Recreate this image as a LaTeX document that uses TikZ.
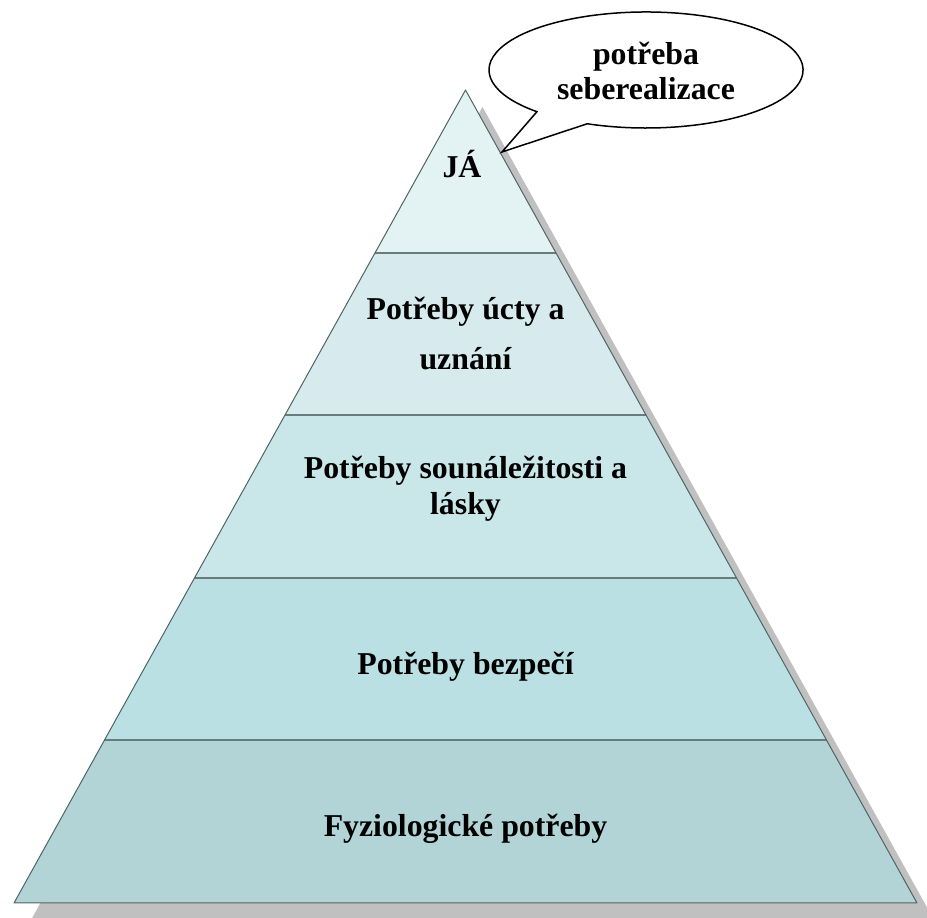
\documentclass[tikz,border=0pt]{standalone}
\usepackage{fontspec}
\setmainfont{Liberation Serif}
\usetikzlibrary{calc}
\definecolor{layerA}{HTML}{E3F2F3}
\definecolor{layerB}{HTML}{D7EBEE}
\definecolor{layerC}{HTML}{C9E6E9}
\definecolor{layerD}{HTML}{BBE0E3}
\definecolor{layerE}{HTML}{B2D4D7}
\definecolor{shadowgray}{HTML}{C0C0C0}
\definecolor{edgecol}{HTML}{4F6565}
\begin{document}
\begin{tikzpicture}[x=1pt,y=1pt,
  lbl/.style={font=\bfseries\fontsize{31.8}{36}\selectfont, align=center, anchor=base, inner sep=0pt},
  outline/.style={draw=edgecol, line width=1pt, line join=round},
  divider/.style={draw=edgecol!85, line width=2pt},
  bubble/.style={draw=black, fill=white, line width=1.5pt, line join=miter}]
\useasboundingbox (0,0) rectangle (927,918);
\clip (0,0) rectangle (927,918);
\coordinate (A) at (465.5,828);
\coordinate (BL) at (14,15);
\coordinate (BR) at (917,15);
\coordinate (L1) at ($(A)!0.2!(BL)$);
\coordinate (R1) at ($(A)!0.2!(BR)$);
\coordinate (L2) at ($(A)!0.4!(BL)$);
\coordinate (R2) at ($(A)!0.4!(BR)$);
\coordinate (L3) at ($(A)!0.6!(BL)$);
\coordinate (R3) at ($(A)!0.6!(BR)$);
\coordinate (L4) at ($(A)!0.8!(BL)$);
\coordinate (R4) at ($(A)!0.8!(BR)$);
% shadow
\fill[shadowgray] ($(A)+(17,-17)$) -- ($(BL)+(17,-17)$) -- ($(BR)+(17,-17)$) -- cycle;
% layers
\fill[layerA] (A) -- (L1) -- (R1) -- cycle;
\fill[layerB] (L1) -- (L2) -- (R2) -- (R1) -- cycle;
\fill[layerC] (L2) -- (L3) -- (R3) -- (R2) -- cycle;
\fill[layerD] (L3) -- (L4) -- (R4) -- (R3) -- cycle;
\fill[layerE] (L4) -- (BL) -- (BR) -- (R4) -- cycle;
\draw[divider] (L1) -- (R1);
\draw[divider] (L2) -- (R2);
\draw[divider] (L3) -- (R3);
\draw[divider] (L4) -- (R4);
\draw[outline] (A) -- (BL) -- (BR) -- cycle;
% labels
\node[lbl] (ja) at (462,740) {JÁ};
\node[lbl] (ucta) at (465.5,548) {Potřeby úcty a\\[14pt]uznání};
\node[lbl] (laska) at (465.5,403) {Potřeby sounáležitosti a\\lásky};
\node[lbl] (bezpeci) at (465.5,243) {Potřeby bezpečí};
\node[lbl] (fyzio) at (465.5,81) {Fyziologické potřeby};
% callout
\coordinate (C) at (646,848);
\coordinate (tip) at (502,766);
\path[bubble] ($(C)+(248:157 and 58)$) arc[start angle=248, end angle=586, x radius=157, y radius=58] -- (tip) -- cycle;
\node[lbl, font=\bfseries\fontsize{31.8}{35}\selectfont] (self) at (646,818) {potřeba\\seberealizace};
\end{tikzpicture}
\end{document}
